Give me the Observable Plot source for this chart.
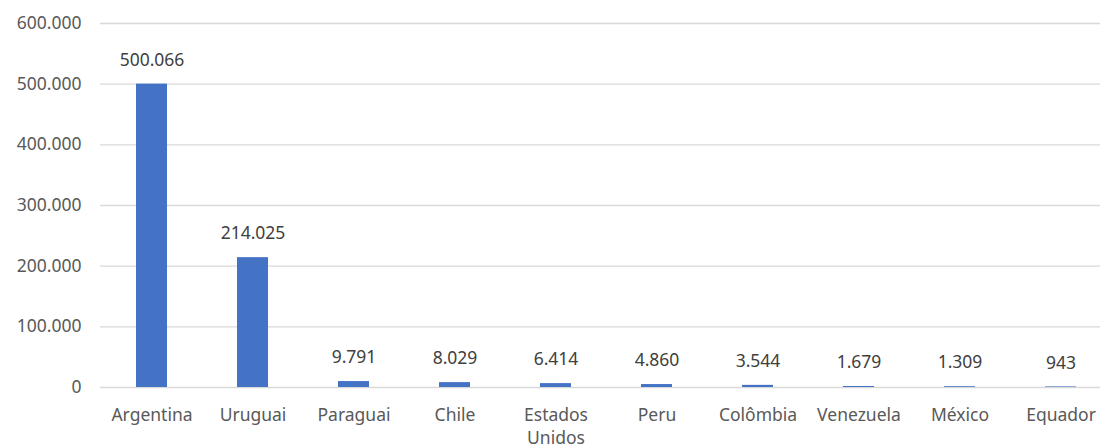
<!DOCTYPE html>
<html>
<head>
<meta charset="utf-8">
<script src="https://cdn.jsdelivr.net/npm/d3@7"></script>
<script src="https://cdn.jsdelivr.net/npm/@observablehq/plot@0.6"></script>
<style>
  html, body { margin: 0; padding: 0; background: #fff; }
  #chart svg { display: block; }
</style>
</head>
<body>
<div id="chart"></div>
<script>
const countries = ["Argentina", "Uruguai", "Paraguai", "Chile", "Estados Unidos", "Peru", "Colômbia", "Venezuela", "México", "Equador"];
const values = [500066, 214025, 9791, 8029, 6414, 4860, 3544, 1679, 1309, 943];
const yTicks = [0, 100000, 200000, 300000, 400000, 500000, 600000];

const data = countries.map((c, i) => ({country: c, value: values[i]}));
const fmt = v => d3.format(",")(v).replace(/,/g, ".");
const font = "'Noto Sans', 'Open Sans', sans-serif";
const fs = 17.5;

const chart = Plot.plot({
  width: 1100,
  height: 446,
  marginLeft: 100,
  marginRight: 0,
  marginTop: 23,
  marginBottom: 59,
  style: {fontFamily: font, fontSize: fs + "px", color: "#595959", background: "#fff"},
  x: {domain: countries, range: [100.5, 1111.5], paddingInner: 0.693, paddingOuter: 0.3465},
  y: {domain: [0, 600000], range: [387, 23]},
  marks: [
    Plot.ruleY(yTicks, {stroke: "#d9d9d9", strokeWidth: 1.3}),
    Plot.barY(data, {x: "country", y: "value", fill: "#4472C4"}),
    Plot.text(data, {x: "country", y: "value", text: d => fmt(d.value), dy: -24, fill: "#404040", fontSize: fs}),
    Plot.axisY(yTicks, {tickSize: 0, tickPadding: 0, dx: -19, tickFormat: fmt, label: null, fill: "#595959", fontSize: fs}),
    Plot.axisX({tickSize: 0, tickPadding: 0, dy: 17, label: null, lineHeight: 1.32, tickFormat: d => d === "Estados Unidos" ? "Estados\nUnidos" : d, fill: "#595959", fontSize: fs, lineAnchor: "top"})
  ]
});
document.getElementById("chart").appendChild(chart);
</script>
</body>
</html>
